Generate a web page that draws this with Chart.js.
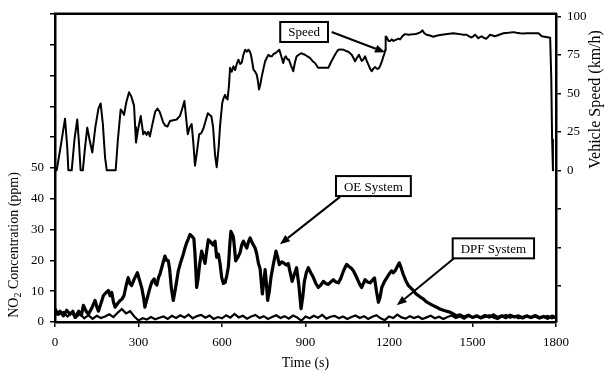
<!DOCTYPE html>
<html>
<head>
<meta charset="utf-8">
<script src="https://cdn.jsdelivr.net/npm/chart.js@4/dist/chart.umd.min.js"></script>
<style>
  html, body { margin: 0; padding: 0; background: #fff; }
  canvas { display: block; }
</style>
</head>
<body>
<canvas id="c" width="609" height="376"></canvas>
<script>
// Vehicle speed (km/h) over the drive cycle
const speedTime = [0,6,20,36,44,48,60,70,80,86,92,100,108,116,124,134,145,156,164,172,180,186,218,226,236,242,248,256,266,274,284,288,291,298,308,312,317,323,329,335,341,350,360,368,376,389,396,404,413,425,437,449,457,465,470,477,484,491,497,503,510,518,525,533,541,549,555,562,568,575,581,588,593,601,606,611,615,620,625,629,635,641,647,653,659,665,671,677,683,689,695,700,704,709,713,719,725,729,733,738,743,749,755,761,767,773,779,785,791,798,806,813,820,825,829,835,840,848,856,862,868,876,884,891,898,907,916,925,934,940,946,955,964,973,982,991,1000,1009,1018,1027,1036,1045,1054,1060,1066,1072,1078,1085,1092,1097,1102,1108,1114,1120,1126,1132,1138,1144,1150,1156,1162,1166,1170,1175,1180,1184,1186,1188,1193,1198,1204,1210,1216,1222,1228,1234,1240,1248,1257,1272,1287,1296,1305,1312,1320,1327,1335,1347,1359,1374,1389,1410,1431,1443,1455,1467,1479,1488,1497,1503,1509,1515,1521,1527,1533,1541,1549,1556,1563,1572,1581,1596,1611,1629,1647,1659,1671,1683,1695,1716,1737,1743,1749,1764,1779,1783,1786,1789,1793];
const speedValues = [0,0,15,33.5,15,0,0,20,33,18,0,0,15,27.7,20,11.6,28,40,43.4,30,8,0,0,20,39.5,38,36,44,50.7,48,42,28,18,26,35.3,30,23.4,25,23,25,22,30,38,40,38,31,29,28.4,32,32.5,33,35.3,40,45,36,23.4,28,30,18,3,12,23.4,24,27,32,37,36,35,28,10,2,15,28.8,43.9,47,49,47,46,55,66.5,64,67.5,65,69,71.8,69,70,75,78.3,77,78.3,77,75,70,65.4,64,62,58,52.5,56,61,66,70.8,73,75,74,74,75.5,76,77,78.3,74,69.7,73,74,72,72,68,64.3,70,74,75,76,75.5,75,74,73,71,69.7,68,66.5,66.5,66.5,66.5,66.5,70,73,76,78.3,78.5,78.3,77.5,77,76,75,73,70.8,73,75,73,71,72,74,71,68.6,66,64.3,66,67,66,66,67,68.6,71,74,76,78,86.9,86,84,84,85,84,84.5,85,85.5,85,87,88.4,88,88.4,88.5,89,89.5,90.8,89,88,87.5,86.7,87.5,88,88.5,89,88.7,88.4,88,88,87,86.2,87,88,87,85.7,86.5,87,86,85.4,86.5,88,87.5,87,88,89,89.3,89.7,89.3,89,88.8,89,89,89,88,87,86.5,86,60,20,0,0];

// NO2 concentration (ppm), OE exhaust system
const oeTime = [0,10,18,30,42,54,64,72,85,95,102,112,120,132,144,150,156,165,174,183,192,198,204,210,216,225,234,241,248,256,263,269,275,285,296,304,312,318,323,332,341,348,356,361,366,372,377,386,395,401,407,412,418,425,433,443,452,461,467,473,479,485,492,499,503,509,514,520,527,533,539,545,551,559,568,575,581,587,593,599,605,611,617,623,628,632,637,641,645,649,657,665,671,677,683,689,695,701,707,713,719,725,731,737,741,745,750,755,760,764,770,776,785,794,800,806,815,824,831,838,845,852,860,868,876,884,890,896,903,910,919,928,937,946,955,964,973,982,991,1000,1009,1018,1026,1034,1041,1048,1056,1064,1072,1081,1090,1096,1102,1108,1114,1123,1132,1140,1148,1155,1162,1168,1174,1183,1192,1200,1209,1215,1222,1230,1237,1244,1251,1260,1270,1279,1288,1296,1305,1314,1323,1335,1347,1359,1371,1383,1395,1407,1419,1431,1443,1455,1470,1485,1500,1515,1530,1545,1560,1575,1590,1605,1620,1635,1650,1665,1680,1695,1710,1725,1740,1755,1770,1785,1800];
const oeValues = [4.3,2.5,3.5,2,3.8,2.5,3.5,1.5,3.5,2.2,5.4,3.5,2.5,4.5,7,5,3.5,6,8.6,9.5,10.2,8.5,9.6,6.5,4.8,6,7,7.5,8.6,12,14.4,12.5,11.8,14,16,13.5,11,8,4.8,8,11,13,14,12.5,12,14.5,15.5,18.5,21.4,20,19.9,17,11,7,11,16.6,19.5,22,24,25.7,27,28.4,27.8,27,22,11.2,14,19,23,21,19,23,26.7,26,25,26.2,21,22,19,14.4,12.5,12.8,15,18,25,29.4,28.5,27.5,24,19.8,21,22.5,25,26.2,25,24,26,27.3,26,25,24,22,19,17.3,13,9.1,13,17,12,7,10,14.5,19,23,21,18.6,19.5,19,18.5,19,16,13.2,15.5,17.6,12,4.3,8,13.2,16,17.6,16,14.5,12.5,11.2,12,13.2,12.5,12.2,13,13.7,13,12.7,14,16,17.5,18.7,18,17.5,16.6,15,13.2,12,11.2,12.5,13.7,13,12.7,13.5,14.3,10,6.4,8,11.2,13,14.3,15.5,16.6,16,16.6,18,19.2,17.5,15.5,13.5,11.8,11,10.2,9.2,8.6,8,7.5,6.5,5.9,5.3,4.8,4.2,3.8,3.5,3.2,2.6,2,2.3,1.6,2.2,1.5,2,1.4,2.1,1.6,2.3,1.5,2,1.4,2.2,1.6,2,1.3,1.9,1.5,2.1,1.4,1.8,1.2,1.9,1.5];

// NO2 concentration (ppm), DPF system, sampled every 15 s
const dpfTime = [0,15,30,45,60,75,90,105,120,135,150,165,180,195,210,225,240,255,270,285,300,315,330,345,360,375,390,405,420,435,450,465,480,495,510,525,540,555,570,585,600,615,630,645,660,675,690,705,720,735,750,765,780,795,810,825,840,855,870,885,900,915,930,945,960,975,990,1005,1020,1035,1050,1065,1080,1095,1110,1125,1140,1155,1170,1185,1200,1215,1230,1245,1260,1275,1290,1305,1320,1335,1350,1365,1380,1395,1410,1425,1440,1455,1470,1485,1500,1515,1530,1545,1560,1575,1590,1605,1620,1635,1650,1665,1680,1695,1710,1725,1740,1755,1770,1785,1800];
const dpfValues = [4.0,2.5,3.2,1.8,3.0,1.5,2.6,1.2,2.2,1.0,2.0,1.3,1.8,2.5,1.6,3.0,4.2,2.8,3.5,1.8,0.5,1.2,0.8,1.6,0.9,1.4,1.8,1.0,2.0,1.3,2.2,1.5,2.4,1.2,1.9,2.3,1.4,2.1,1.0,1.6,1.2,2.2,1.4,2.6,1.5,2.0,1.1,1.8,2.3,1.3,1.9,1.0,1.6,2.2,1.3,1.9,1.1,2.1,1.5,0.4,1.8,1.2,2.0,1.4,2.3,1.1,1.7,2.0,1.2,1.8,1.0,1.6,2.1,1.3,1.9,1.0,1.7,2.2,1.2,0.6,1.8,1.3,2.4,1.5,1.1,1.9,1.3,1.8,1.0,1.5,2.0,1.2,1.7,1.0,1.6,2.1,1.3,1.8,1.1,2.0,1.4,1.9,1.2,1.6,2.2,1.5,1.0,1.8,2.3,1.4,1.9,1.2,1.7,2.1,1.3,1.8,1.1,1.6,2.0,1.2,1.5];

// Axis ticks
const timeTicks = [0,300,600,900,1200,1500,1800];
const no2Ticks = [0,10,20,30,40,50,60,70,80,90,100];
const speedTicks = [-75,-50,-25,0,25,50,75,100];

// Callout labels, placed in (time, NO2 ppm) coordinates
const callouts = [
  { text: 'Speed',      box: [895, 94.1],  from: [994, 94.1],  to: [1186, 87.5] },
  { text: 'OE System',  box: [1144, 44.1], from: [1024, 40.6], to: [808, 25.2] },
  { text: 'DPF System', box: [1575, 23.9], from: [1437, 20.9], to: [1228, 5.4] }
];

const pts = (xs, ys) => xs.map((t, i) => ({ x: t, y: ys[i] }));
const FONT = '"Liberation Serif", "Times New Roman", serif';

function arrow(ctx, x0, y0, x1, y1) {
  const ang = Math.atan2(y1 - y0, x1 - x0);
  const len = 10, half = 4;
  const bx = x1 - len * Math.cos(ang), by = y1 - len * Math.sin(ang);
  ctx.beginPath();
  ctx.moveTo(x0, y0);
  ctx.lineTo(bx, by);
  ctx.stroke();
  ctx.beginPath();
  ctx.moveTo(x1, y1);
  ctx.lineTo(bx + half * Math.sin(ang), by - half * Math.cos(ang));
  ctx.lineTo(bx - half * Math.sin(ang), by + half * Math.cos(ang));
  ctx.closePath();
  ctx.fill();
}

const decorations = {
  id: 'decorations',
  afterDraw(chart) {
    const { ctx, chartArea: a, scales: { x, y, y2 } } = chart;
    ctx.save();
    ctx.strokeStyle = '#000';
    ctx.fillStyle = '#000';

    // top edge of the frame
    ctx.lineWidth = 2.5;
    ctx.beginPath();
    ctx.moveTo(a.left - 1, a.top);
    ctx.lineTo(a.right + 1, a.top);
    ctx.stroke();

    // left axis title, centred on the labelled 0-50 ppm range
    ctx.textBaseline = 'middle';
    ctx.save();
    ctx.translate(14, y.getPixelForValue(25));
    ctx.rotate(-Math.PI / 2);
    const big = '14px ' + FONT, small = '10px ' + FONT;
    const p1 = 'NO', p3 = ' Concentration (ppm)';
    ctx.font = big;
    const w1 = ctx.measureText(p1).width;
    const w3 = ctx.measureText(p3).width;
    ctx.font = small;
    const w2 = ctx.measureText('2').width;
    const sx = -(w1 + w2 + w3) / 2;
    ctx.textAlign = 'left';
    ctx.font = big;
    ctx.fillText(p1, sx, 0);
    ctx.font = small;
    ctx.fillText('2', sx + w1, 4);
    ctx.font = big;
    ctx.fillText(p3, sx + w1 + w2, 0);
    ctx.restore();

    // right axis title, centred on the labelled speed range
    ctx.save();
    ctx.translate(596, y2.getPixelForValue(46));
    ctx.rotate(-Math.PI / 2);
    ctx.font = '16px ' + FONT;
    ctx.textAlign = 'center';
    ctx.fillText('Vehicle Speed (km/h)', 0, 0);
    ctx.restore();

    // callout boxes with arrows
    ctx.font = '13px ' + FONT;
    ctx.textAlign = 'center';
    callouts.forEach(c => {
      const cx = x.getPixelForValue(c.box[0]);
      const cy = y.getPixelForValue(c.box[1]);
      const w = ctx.measureText(c.text).width + 16;
      const h = 20;
      ctx.lineWidth = 2;
      arrow(ctx,
        x.getPixelForValue(c.from[0]), y.getPixelForValue(c.from[1]),
        x.getPixelForValue(c.to[0]), y.getPixelForValue(c.to[1]));
      ctx.fillStyle = '#fff';
      ctx.fillRect(cx - w / 2, cy - h / 2, w, h);
      ctx.strokeRect(cx - w / 2, cy - h / 2, w, h);
      ctx.fillStyle = '#000';
      ctx.fillText(c.text, cx, cy + 1);
    });
    ctx.restore();
  }
};

const axisGrid = { drawOnChartArea: false, drawTicks: true, tickLength: 5, color: '#000', lineWidth: 1.5 };
const axisBorder = { display: true, color: '#000', width: 2.5 };
const tickFont = { family: FONT, size: 13 };

new Chart(document.getElementById('c'), {
  type: 'line',
  data: {
    datasets: [
      { label: 'Speed', data: pts(speedTime, speedValues), yAxisID: 'y2',
        borderColor: '#000', borderWidth: 2, pointRadius: 0, tension: 0, borderJoinStyle: 'round' },
      { label: 'OE System', data: pts(oeTime, oeValues), yAxisID: 'y',
        borderColor: '#000', borderWidth: 3.2, pointRadius: 0, tension: 0, borderJoinStyle: 'round' },
      { label: 'DPF System', data: pts(dpfTime, dpfValues), yAxisID: 'y',
        borderColor: '#000', borderWidth: 2.2, pointRadius: 0, tension: 0 }
    ]
  },
  options: {
    responsive: false,
    animation: false,
    devicePixelRatio: 1,
    layout: { padding: { top: 10, left: 0, right: 0, bottom: 0 } },
    plugins: { legend: { display: false }, tooltip: { enabled: false } },
    scales: {
      x: {
        type: 'linear', min: 0, max: 1800,
        afterBuildTicks: s => { s.ticks = timeTicks.map(v => ({ value: v })); },
        afterFit: s => { s.height = 54; },
        ticks: { color: '#000', font: tickFont, padding: 8, autoSkip: false, maxRotation: 0,
                 callback: v => String(v) },
        grid: axisGrid, border: axisBorder,
        title: { display: true, text: 'Time (s)', color: '#000', font: { family: FONT, size: 14 }, padding: { top: 2 } }
      },
      y: {
        type: 'linear', position: 'left', min: 0, max: 100,
        afterBuildTicks: s => { s.ticks = no2Ticks.map(v => ({ value: v })); },
        afterFit: s => { s.width = 55; },
        ticks: { color: '#000', font: tickFont, padding: 6, autoSkip: false,
                 callback: v => (v <= 50 ? String(v) : '') },
        grid: axisGrid, border: axisBorder
      },
      y2: {
        type: 'linear', position: 'right', min: -98.5, max: 101.6,
        afterBuildTicks: s => { s.ticks = speedTicks.map(v => ({ value: v })); },
        afterFit: s => { s.width = 53; },
        ticks: { color: '#000', font: tickFont, padding: 6, autoSkip: false,
                 callback: v => (v >= 0 ? String(v) : '') },
        grid: axisGrid, border: axisBorder
      }
    }
  },
  plugins: [decorations]
});
</script>
</body>
</html>
